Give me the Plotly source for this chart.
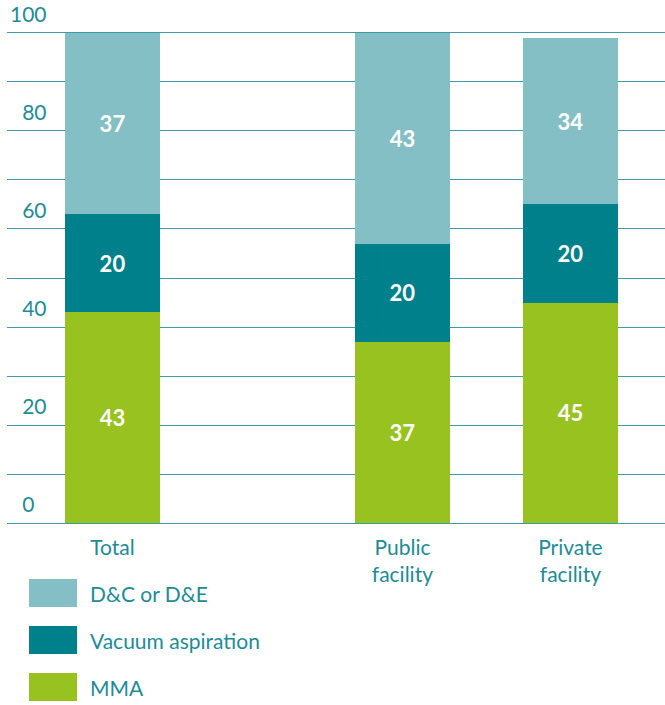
import plotly.graph_objects as go

# ---- data ----
categories = ["Total", "Public<br>facility", "Private<br>facility"]
mma = [43, 37, 45]
vacuum = [20, 20, 20]
dce = [37, 43, 34]
series_names = ["MMA", "Vacuum aspiration", "D&C or D&E"]
y_tick_values = [0, 10, 20, 30, 40, 50, 60, 70, 80, 90, 100]
y_tick_labels = ["\u20070", "", "\u200720", "", "\u200740", "", "\u200760", "", "\u200780", "", "100"]

# ---- layout constants ----
X_POS = [0, 1.726, 2.726]
BAR_W = 0.565
C_LIGHT = "#84BFC6"
C_DARK = "#00808A"
C_GREEN = "#98C21F"
C_TEXT = "#1E8B95"
C_GRID = "#3A9CA6"
FONT = "Lato"

W, H = 665, 705
L, R, T, B = 7, 0, 28, 177
PW, PH = W - L - R, H - T - B

fig = go.Figure()
for vals, name, col in [(mma, series_names[0], C_GREEN),
                        (vacuum, series_names[1], C_DARK),
                        (dce, series_names[2], C_LIGHT)]:
    fig.add_trace(go.Bar(
        x=X_POS, y=vals, name=name, width=BAR_W,
        marker=dict(color=col, line=dict(width=0)),
        text=[str(v) for v in vals], textposition="inside",
        insidetextanchor="middle",
        textfont=dict(family=FONT, size=22, color="white", weight="bold"),
        showlegend=False, hoverinfo="skip",
    ))

# custom legend (large swatches)
def px_x(px):
    return (px - L) / PW

def px_y(py):
    return (H - B - py) / PH

legend_items = [(series_names[2], C_LIGHT, 593), (series_names[1], C_DARK, 640), (series_names[0], C_GREEN, 687)]
for name, col, cy in legend_items:
    fig.add_shape(type="rect", xref="paper", yref="paper",
                  x0=px_x(29), x1=px_x(77), y0=px_y(cy + 14), y1=px_y(cy - 14),
                  fillcolor=col, line=dict(width=0))
    fig.add_annotation(xref="paper", yref="paper", x=px_x(88), y=px_y(cy),
                       text=name, showarrow=False, xanchor="left", yanchor="middle",
                       font=dict(family=FONT, size=21, color=C_TEXT))

fig.update_layout(
    barmode="stack",
    width=W, height=H,
    margin=dict(l=L, r=R, t=T, b=B, pad=0),
    paper_bgcolor="white", plot_bgcolor="white",
    font=dict(family=FONT, color=C_TEXT, size=21),
    xaxis=dict(
        range=[-0.628, 3.289], tickvals=X_POS, ticktext=categories,
        showgrid=False, zeroline=False, showline=False, ticks="",
        tickfont=dict(family=FONT, size=21, color=C_TEXT),
        ticklabelstandoff=5,
        fixedrange=True,
    ),
    yaxis=dict(
        range=[-1, 101], tickvals=y_tick_values, ticktext=y_tick_labels,
        showgrid=True, gridcolor=C_GRID, gridwidth=1.3,
        zeroline=False, showline=False, ticks="",
        ticklabelposition="inside top", ticklabeloverflow="allow",
        ticklabelshift=-4,
        tickfont=dict(family=FONT, size=21, color=C_TEXT),
        fixedrange=True,
    ),
)

fig.write_html("out.html", config={"displayModeBar": False},
               post_script="document.body.style.margin='0';")
